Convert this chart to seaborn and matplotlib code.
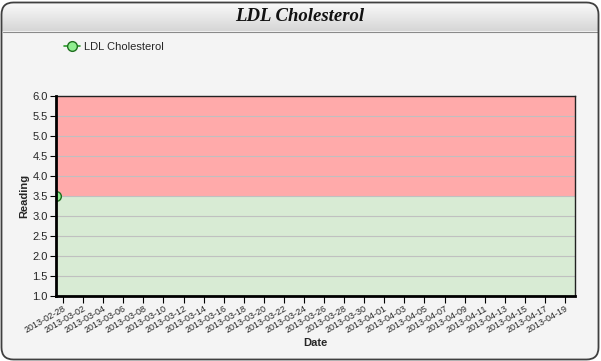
import matplotlib
matplotlib.use("Agg")
import matplotlib.pyplot as plt
import matplotlib.dates as mdates
from matplotlib.patches import FancyBboxPatch
from matplotlib.ticker import FormatStrFormatter, FixedLocator
import numpy as np
import pandas as pd
import seaborn as sns

sns.set_style("white")
plt.rcParams['font.family'] = ['Liberation Sans', 'DejaVu Sans']

# Data
dates = ["2013-02-27 07:00"]
readings = [3.5]
series_name = "LDL Cholesterol"
title = "LDL Cholesterol"
x_label = "Date"
y_label = "Reading"
y_ticks = [1.0, 1.5, 2.0, 2.5, 3.0, 3.5, 4.0, 4.5, 5.0, 5.5, 6.0]
tick_dates = pd.date_range("2013-02-28", "2013-04-19", freq="2D")
x_end = "2013-04-20"
normal_band = (1.0, 3.5)
high_band = (3.5, 6.0)

df = pd.DataFrame({"Date": pd.to_datetime(dates), "Reading": readings, "Series": series_name})

W, H = 601, 361
fig = plt.figure(figsize=(W / 100, H / 100), dpi=100)
fig.patch.set_facecolor("white")


def rounded_frame(**kw):
    return FancyBboxPatch((1.5 / W, 1.5 / H), (W - 4) / W, (H - 4) / H,
                          boxstyle="round,pad=0,rounding_size=0.02",
                          transform=fig.transFigure, mutation_aspect=W / H, **kw)


frame_bg = rounded_frame(facecolor="#f4f4f4", edgecolor="none", zorder=-10)
fig.patches.append(frame_bg)

# Title bar gradient
tb_ax = fig.add_axes([1.5 / W, 1 - 31 / H, (W - 4) / W, 29.5 / H], zorder=-5)
grad = np.linspace(1.0, 0.0, 64).reshape(-1, 1)
im = tb_ax.imshow(grad, aspect="auto", cmap=matplotlib.colors.LinearSegmentedColormap.from_list(
    "g", ["#d6d6d6", "#fcfcfc"]), extent=[0, 1, 0, 1])
tb_ax.set_axis_off()
im.set_clip_path(rounded_frame(facecolor="none", edgecolor="none"))
tb_ax.text(0.5, 0.48, title, transform=tb_ax.transAxes, ha="center", va="center",
           fontsize=13.5, fontweight="bold", fontstyle="italic",
           family=["Liberation Serif", "DejaVu Serif"], color="#111111")
fig.add_artist(plt.Line2D([2.5 / W, (W - 3.5) / W], [1 - 31.5 / H, 1 - 31.5 / H],
                          transform=fig.transFigure, color="#8a8a8a", lw=0.8))

# Main axes
ax = fig.add_axes([56 / W, 1 - 296 / H, (575 - 56) / W, 200 / H])
ax.set_facecolor("#f4f4f4")
x0 = pd.to_datetime(dates[0])
x1 = pd.to_datetime(x_end)
ax.axhspan(*high_band, color="#ffaaaa", zorder=0, lw=0)
ax.axhspan(*normal_band, color="#d8ebd4", zorder=0, lw=0)
for yv in y_ticks[1:-1]:
    ax.axhline(yv, color="#c0c0c0", lw=0.8, zorder=1)

sns.lineplot(data=df, x="Date", y="Reading", ax=ax, marker="o", markersize=7,
             color="#2a9a2a", markerfacecolor="#90ee90", markeredgecolor="#1f6f1f",
             markeredgewidth=1.0, label=series_name, legend=False, zorder=1.5, lw=1.2)
for ln in ax.lines:
    ln.set_clip_on(True)

ax.set_xlim(x0, x1)
ax.set_ylim(1.0, 6.0)
ax.yaxis.set_major_locator(FixedLocator(y_ticks))
ax.yaxis.set_major_formatter(FormatStrFormatter("%.1f"))
ax.xaxis.set_major_locator(FixedLocator(mdates.date2num(tick_dates)))
ax.xaxis.set_major_formatter(mdates.DateFormatter("%Y-%m-%d"))
ax.tick_params(axis="y", labelsize=8, length=4, width=0.8, direction="out", pad=2, left=True, color="black")
ax.tick_params(axis="x", labelsize=6.5, length=5, width=0.8, direction="out", pad=1, bottom=True, color="black")
for lab in ax.get_xticklabels():
    lab.set_rotation(30)
    lab.set_ha("right")
    lab.set_rotation_mode("anchor")
ax.set_xlabel(x_label, fontsize=8, fontweight="bold", labelpad=2)
ax.set_ylabel(y_label, fontsize=8, fontweight="bold", labelpad=2)
for side in ["left", "bottom"]:
    ax.spines[side].set_linewidth(2)
    ax.spines[side].set_color("black")
    ax.spines[side].set_zorder(3)
for side in ["top", "right"]:
    ax.spines[side].set_linewidth(1)
    ax.spines[side].set_color("#222222")

# Legend
handles, labels = ax.get_legend_handles_labels()
leg = fig.legend(handles, labels, loc="center left", bbox_to_anchor=(64 / W, 1 - 47 / H),
                 frameon=False, fontsize=8, handlelength=1.4, handletextpad=0.4,
                 borderpad=0, borderaxespad=0)

frame_edge = rounded_frame(facecolor="none", edgecolor="#404040", linewidth=1.3, zorder=50)
fig.patches.append(frame_edge)

fig.savefig("out.png", dpi=100, facecolor=fig.get_facecolor())
